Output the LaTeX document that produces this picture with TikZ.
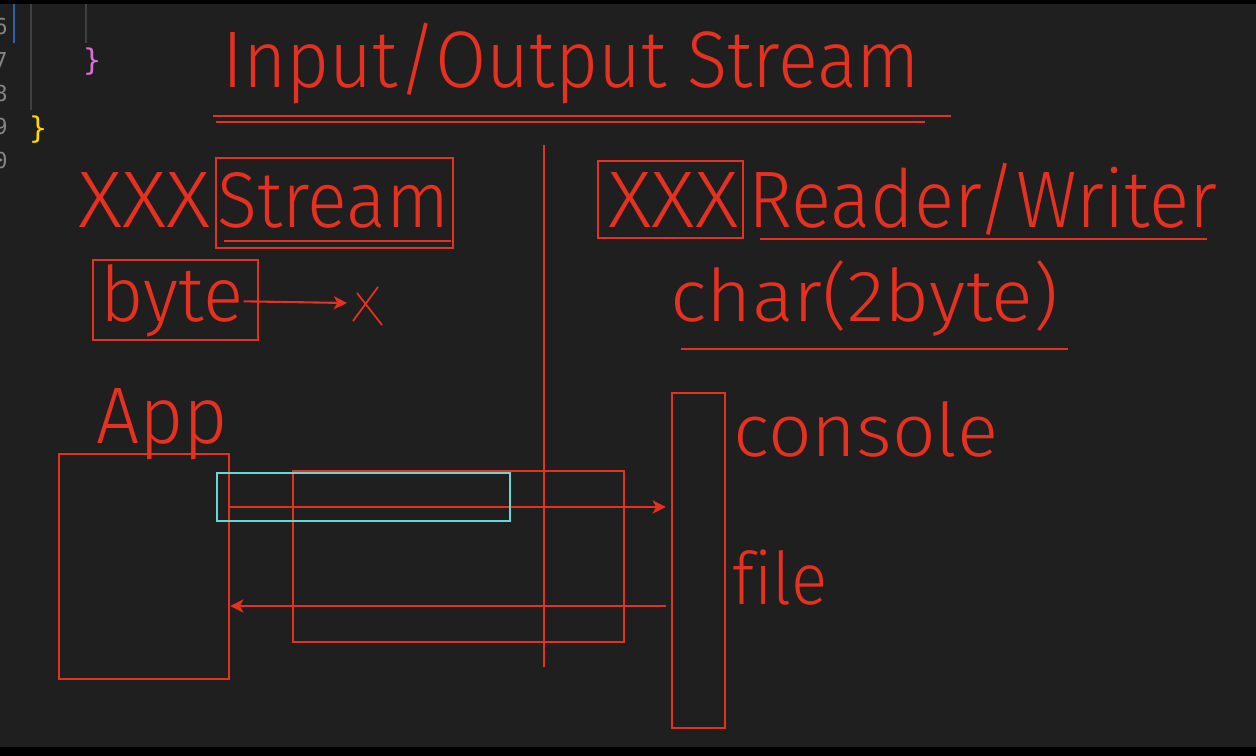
\documentclass[tikz,border=0pt]{standalone}
\usepackage{fontspec}
\usepackage{graphicx}
\usetikzlibrary{positioning,calc,fit,arrows.meta}
\IfFontExistsTF{Fira Sans Light}{\newfontfamily\handfont{Fira Sans Light}[Ligatures=NoCommon]}{\newfontfamily\handfont{Fira Sans}[Ligatures=NoCommon]}
\newfontfamily\codefont{DejaVu Sans Mono}
\definecolor{inkred}{RGB}{230,48,32}
\definecolor{inkcyan}{RGB}{100,215,215}
\definecolor{editorbg}{RGB}{31,31,31}
\definecolor{gutter}{RGB}{133,133,133}
\definecolor{guide}{RGB}{64,64,64}
\definecolor{modbar}{RGB}{40,100,170}
\definecolor{orchid}{RGB}{218,112,214}
\definecolor{gold}{RGB}{255,215,0}
\newsavebox\fitbx
\newsavebox\refbx
\newcommand\fitted[4]{%
  \sbox\fitbx{#4}\sbox\refbx{#3}%
  \edef\fitsx{\fpeval{#1*0.5690551*65536/\number\wd\fitbx}}%
  \edef\fitsy{\fpeval{#2*0.5690551*65536/\number\ht\refbx}}%
  \scalebox{\fitsx}[\fitsy]{\usebox\fitbx}}
\begin{document}
\begin{tikzpicture}[x=0.02cm, y=-0.02cm,
    pen/.style={draw=inkred, line width=1.4pt},
    box/.style={pen, inner sep=0pt},
    arr/.style={draw=inkred, line width=1.2pt, -{Stealth[length=7.5pt, width=7.5pt, inset=2pt]}},
    word/.style={text=inkred, anchor=base west, inner sep=0pt, font=\handfont},
    code/.style={anchor=base east, inner sep=0pt, text=gutter, font=\codefont\fontsize{12.5pt}{14pt}\selectfont},
    brace/.style={inner sep=0pt, font=\codefont\fontsize{17pt}{17pt}\selectfont}]
    \fill [black] (0,0) rectangle (1256,756);
    \fill [editorbg] (0,4) rectangle (1256,747);
    \useasboundingbox (0,0) rectangle (1256,756);
    \clip (0,0) rectangle (1256,756);

    \foreach \n/\y in {6/35,7/68.5,8/102,9/135,0/168.5}
        \node [code] (ln\n) at (8,\y) {\n};
    \draw [modbar, line width=1.2pt] (14,4) -- (14,43);
    \draw [guide, line width=0.6pt] (31,4) -- (31,110);
    \draw [guide, line width=0.6pt] (86,4) -- (86,43);
    \node [brace, text=orchid] (braceA) at (92,62) {\}};
    \node [brace, text=gold] (braceB) at (38,129.5) {\}};

    \node [word] (title) at (222,88) {\fitted{698}{55}{I}{Input/Output Stream}};
    \draw [pen] (213,116) -- (951,116);
    \draw [pen] (216,122) -- (925,122);

    \node [word] (xxxL) at (78,228) {\fitted{132}{55}{X}{XXX}};
    \node [word] (stream) at (217,228) {\fitted{232}{55}{S}{Stream}};
    \node [box, fit={(216,158) (453,248)}] (streambox) {};
    \draw [pen] (224,241) -- (451,241);
    \node [word] (byte) at (100,322) {\fitted{143}{57}{b}{byte}};
    \node [box, fit={(93,260) (258,340)}] (bytebox) {};
    \coordinate (cross) at (347,303);
    \draw [arr] (byte.east) -- (cross);
    \draw [pen, line width=1pt] (353,321) -- (378,287) (357,293) -- (382,325);

    \coordinate (divtop) at (544,145);
    \coordinate (divbot) at (544,667);
    \draw [pen] (divtop) -- (divbot);

    \node [word] (xxxR) at (608,228) {\fitted{130}{55}{X}{XXX}};
    \node [box, fit={(598,161) (743,238)}] (xxxbox) {};
    \node [word] (rw) at (748,228) {\fitted{469}{55}{R}{Reader/Writer}};
    \draw [pen] (760,239) -- (1207,239);
    \node [word] (char) at (670,321) {\fitted{388}{54}{h}{char(2byte)}};
    \draw [pen] (681,349) -- (1068,349);

    \node [word] (appl) at (96,443) {\fitted{132}{55}{A}{App}};
    \node [box, fit={(59,454) (229,679)}] (app) {};
    \node [box, fit={(293,471) (624,642)}] (buffer) {};
    \node [box, fit={(672,393) (725,728)}] (device) {};
    \node [word] (console) at (733,456) {\fitted{265}{55}{l}{console}};
    \node [word] (file) at (732,604) {\fitted{95}{54}{l}{file}};
    \coordinate (outlane) at (0,507);
    \coordinate (inlane) at (0,606);
    \draw [arr] (app.east |- outlane) -- ($(device.west |- outlane)+(-5,0)$);
    \draw [arr] ($(device.west |- inlane)+(-5,0)$) -- (app.east |- inlane);
    \node [box, draw=inkcyan, line width=1.5pt, fit={(217,473) (510,521)}] (cyanbox) {};
\end{tikzpicture}
\end{document}
